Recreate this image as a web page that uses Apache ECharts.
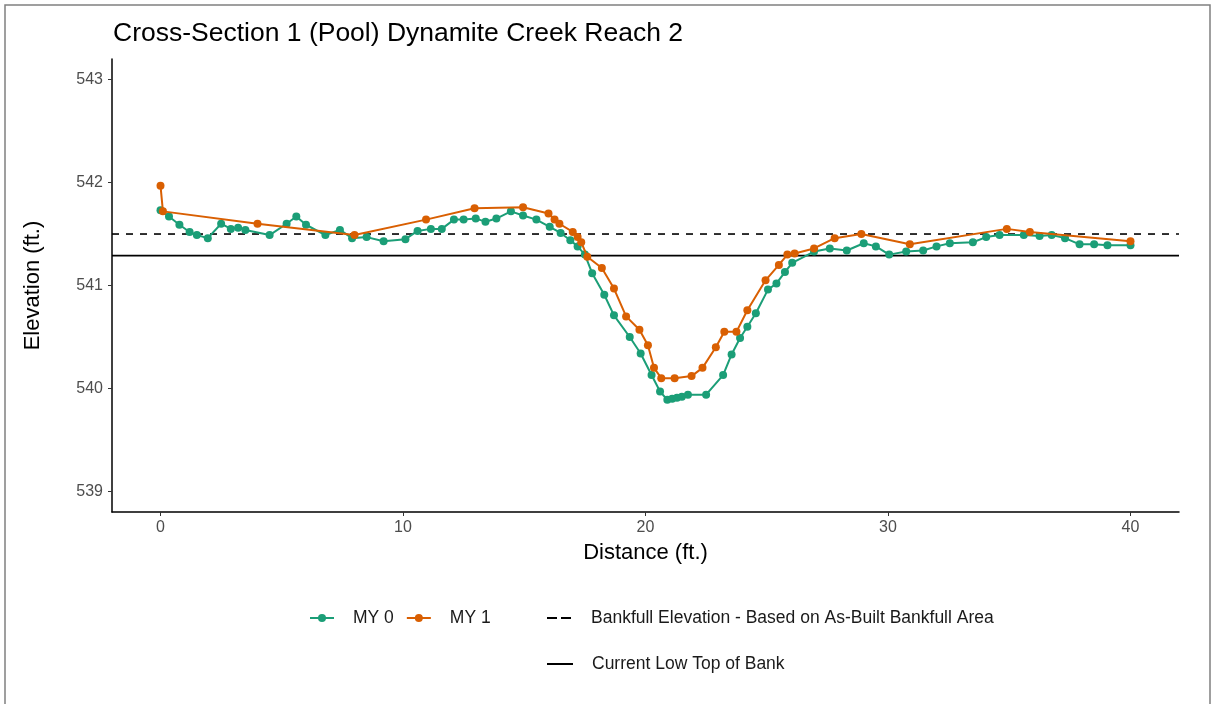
<!DOCTYPE html>
<html>
<head>
<meta charset="utf-8">
<script src="https://cdn.jsdelivr.net/npm/echarts@6/dist/echarts.min.js"></script>
<style>
  html, body { margin: 0; padding: 0; background: #fff; }
  #main { width: 1215px; height: 704px; }
</style>
</head>
<body>
<div id="main"></div>
<script>
// distance (ft.) / elevation (ft.) for each survey
var my0Dist = [0, 0.35, 0.78, 1.2, 1.5, 1.95, 2.5, 2.9, 3.2, 3.5, 4.5, 5.2, 5.6, 6.0, 6.8, 7.4, 7.9, 8.5, 9.2, 10.1,
	10.6, 11.15, 11.6, 12.1, 12.5, 13.0, 13.4, 13.85, 14.45, 14.95, 15.5, 16.05, 16.5, 16.9, 17.2, 17.5, 17.8, 18.3, 18.7, 19.35,
	19.8, 20.25, 20.6, 20.9, 21.1, 21.3, 21.5, 21.75, 22.5, 23.2, 23.55, 23.9, 24.2, 24.55, 25.05, 25.4, 25.75, 26.05, 26.95, 27.6,
	28.3, 29.0, 29.5, 30.05, 30.75, 31.45, 32.0, 32.55, 33.5, 34.05, 34.6, 35.6, 36.25, 36.75, 37.3, 37.9, 38.5, 39.05, 40];
var my0Elev = [541.73, 541.67, 541.59, 541.52, 541.49, 541.46, 541.6, 541.55, 541.56, 541.54, 541.49, 541.6, 541.67, 541.59, 541.49, 541.54, 541.46, 541.47, 541.43, 541.45,
	541.53, 541.55, 541.55, 541.64, 541.64, 541.65, 541.62, 541.65, 541.72, 541.68, 541.64, 541.57, 541.51, 541.44, 541.38, 541.3, 541.12, 540.91, 540.71, 540.5,
	540.34, 540.13, 539.97, 539.89, 539.9, 539.91, 539.92, 539.94, 539.94, 540.13, 540.33, 540.49, 540.6, 540.73, 540.96, 541.02, 541.13, 541.22, 541.33, 541.36,
	541.34, 541.41, 541.38, 541.3, 541.33, 541.34, 541.38, 541.41, 541.42, 541.47, 541.49, 541.49, 541.48, 541.49, 541.46, 541.4, 541.4, 541.39, 541.39];

var my1Dist = [0, 0.1, 4.0, 8.0, 10.95, 12.95, 14.95, 16.0, 16.25, 16.45, 17.0, 17.2, 17.35, 17.6, 18.2, 18.7, 19.2, 19.75, 20.1, 20.35,
	20.65, 21.2, 21.9, 22.35, 22.9, 23.25, 23.75, 24.2, 24.95, 25.5, 25.85, 26.15, 26.95, 27.8, 28.9, 30.9, 34.9, 35.85, 40];
var my1Elev = [541.97, 541.72, 541.6, 541.49, 541.64, 541.75, 541.76, 541.7, 541.64, 541.6, 541.52, 541.47, 541.42, 541.28, 541.17, 540.97, 540.7, 540.57, 540.42, 540.2,
	540.1, 540.1, 540.12, 540.2, 540.4, 540.55, 540.55, 540.76, 541.05, 541.2, 541.3, 541.31, 541.36, 541.46, 541.5, 541.4, 541.55, 541.52, 541.43];

var bankfullElev = 541.5;
var lowTopOfBank = 541.29;

var xTicks = [0, 10, 20, 30, 40];
var yTicks = [539, 540, 541, 542, 543];
var xRange = [-2, 42];
var yRange = [538.8, 543.2];

function pairs(xs, ys) {
	var out = [];
	for (var i = 0; i < xs.length; i++) out.push([xs[i], ys[i]]);
	return out;
}

var green = '#1b9e77';
var orange = '#d95f02';
var font = 'Liberation Sans';

var axisCommon = {
	type: 'value',
	splitLine: { show: false },
	axisLine: { show: true, onZero: false, lineStyle: { color: '#000', width: 1.5 } },
	nameLocation: 'middle',
	nameTextStyle: { color: '#000', fontSize: 22, fontFamily: font }
};

var legendText = { color: '#1a1a1a', fontSize: 17.5, fontFamily: font, padding: [0, 0, 0, 14] };

var option = {
	animation: false,
	backgroundColor: '#fff',
	title: {
		text: 'Cross-Section 1 (Pool) Dynamite Creek Reach 2',
		left: 108,
		top: 15,
		textStyle: { color: '#000', fontSize: 26.5, fontWeight: 'normal', fontFamily: font }
	},
	graphic: [{
		type: 'rect',
		shape: { x: 5, y: 5, width: 1205, height: 720 },
		style: { fill: 'none', stroke: '#808080', lineWidth: 1.5 },
		silent: true
	}],
	grid: { left: 112, right: 36, top: 59, bottom: 192 },
	xAxis: Object.assign({}, axisCommon, {
		min: xRange[0],
		max: xRange[1],
		name: 'Distance (ft.)',
		nameGap: 30,
		axisTick: { show: true, length: 4, customValues: xTicks, lineStyle: { color: '#333', width: 1 } },
		axisLabel: { customValues: xTicks, color: '#4d4d4d', fontSize: 16, margin: 8, fontFamily: font }
	}),
	yAxis: Object.assign({}, axisCommon, {
		min: yRange[0],
		max: yRange[1],
		name: 'Elevation (ft.)',
		nameGap: 68,
		axisTick: { show: true, length: 4, customValues: yTicks, lineStyle: { color: '#333', width: 1 } },
		axisLabel: { customValues: yTicks, color: '#4d4d4d', fontSize: 16, margin: 9, fontFamily: font }
	}),
	legend: [{
		data: ['MY 0', 'MY 1'],
		left: 304,
		top: 604,
		itemWidth: 24,
		itemHeight: 10,
		itemGap: 12,
		textStyle: legendText
	}, {
		data: [{
			name: 'Bankfull Elevation - Based on As-Built Bankfull Area',
			icon: 'path://M0,0H10V2H0Z M14,0H24V2H14Z'
		}],
		left: 542,
		top: 604,
		itemWidth: 26,
		itemHeight: 2,
		textStyle: legendText
	}, {
		data: [{
			name: 'Current Low Top of Bank',
			icon: 'rect'
		}],
		left: 542,
		top: 650,
		itemWidth: 26,
		itemHeight: 2,
		textStyle: legendText
	}],
	series: [{
		name: 'Bankfull Elevation - Based on As-Built Bankfull Area',
		type: 'line',
		symbol: 'none',
		data: [[xRange[0], bankfullElev], [xRange[1], bankfullElev]],
		itemStyle: { color: '#000' },
		lineStyle: { color: '#000', width: 1.6, type: [7, 7] },
		z: 1
	}, {
		name: 'Current Low Top of Bank',
		type: 'line',
		symbol: 'none',
		data: [[xRange[0], lowTopOfBank], [xRange[1], lowTopOfBank]],
		itemStyle: { color: '#000' },
		lineStyle: { color: '#000', width: 1.6 },
		z: 1
	}, {
		name: 'MY 0',
		type: 'line',
		symbol: 'circle',
		symbolSize: 8,
		data: pairs(my0Dist, my0Elev),
		itemStyle: { color: green },
		lineStyle: { color: green, width: 2 },
		z: 3
	}, {
		name: 'MY 1',
		type: 'line',
		symbol: 'circle',
		symbolSize: 8,
		data: pairs(my1Dist, my1Elev),
		itemStyle: { color: orange },
		lineStyle: { color: orange, width: 2 },
		z: 4
	}]
};

var my = echarts.init(document.getElementById('main'));
my.setOption(option);
</script>
</body>
</html>
